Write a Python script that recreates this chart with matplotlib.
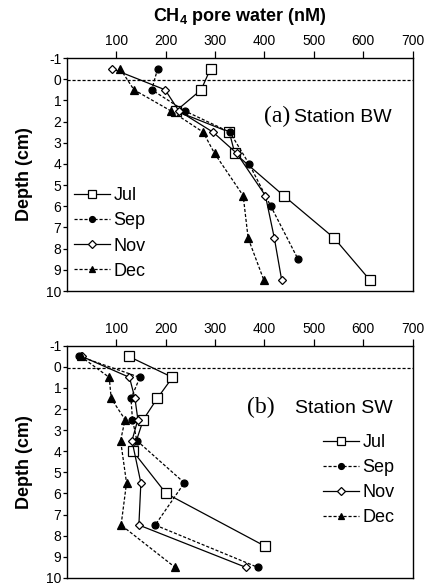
import matplotlib
matplotlib.use("Agg")
import matplotlib.pyplot as plt

plt.rcParams['font.family'] = ['Liberation Sans', 'DejaVu Sans']
plt.rcParams['mathtext.fontset'] = 'custom'
plt.rcParams['mathtext.rm'] = 'Liberation Sans'
plt.rcParams['mathtext.bf'] = 'Liberation Sans:bold'
plt.rcParams['axes.unicode_minus'] = False

# ---- Station BW: depth (cm) and CH4 (nM) ----
bw_jul_depth = [-0.5, 0.5, 1.5, 2.5, 3.5, 5.5, 7.5, 9.5]
bw_jul_ch4 = [291, 272, 221, 329, 340, 439, 541, 614]
bw_sep_depth = [-0.5, 0.5, 1.5, 2.5, 4.0, 6.0, 8.5]
bw_sep_ch4 = [184, 172, 239, 330, 369, 413, 468]
bw_nov_depth = [-0.5, 0.5, 1.5, 2.5, 3.5, 5.5, 7.5, 9.5]
bw_nov_ch4 = [91, 199, 227, 296, 344, 402, 420, 435]
bw_dec_depth = [-0.5, 0.5, 1.5, 2.5, 3.5, 5.5, 7.5, 9.5]
bw_dec_ch4 = [108, 136, 211, 276, 299, 357, 367, 399]

# ---- Station SW ----
sw_jul_depth = [-0.5, 0.5, 1.5, 2.5, 4.0, 6.0, 8.5]
sw_jul_ch4 = [125, 214, 183, 155, 134, 201, 401]
sw_sep_depth = [-0.5, 0.5, 1.5, 2.5, 3.5, 5.5, 7.5, 9.5]
sw_sep_ch4 = [25, 148, 130, 133, 142, 238, 179, 386]
sw_nov_depth = [-0.5, 0.5, 1.5, 2.5, 3.5, 5.5, 7.5, 9.5]
sw_nov_ch4 = [30, 127, 138, 144, 132, 150, 146, 362]
sw_dec_depth = [-0.5, 0.5, 1.5, 2.5, 3.5, 5.5, 7.5, 9.5]
sw_dec_ch4 = [28, 86, 90, 118, 109, 121, 110, 219]

months = ['Jul', 'Sep', 'Nov', 'Dec']
x_ticks = [100, 200, 300, 400, 500, 600, 700]
y_ticks = list(range(-1, 11))

styles = {
    'Jul': dict(ls='-', marker='s', mfc='white', ms=6.5),
    'Sep': dict(ls=(0, (2.5, 1.5)), marker='o', mfc='black', ms=5),
    'Nov': dict(ls='-', marker='D', mfc='white', ms=4.5),
    'Dec': dict(ls=(0, (2.5, 1.5)), marker='^', mfc='black', ms=5.5),
}

fig = plt.figure(figsize=(4.31, 5.86), dpi=100)
ax1 = fig.add_axes([0.1548, 0.5034, 0.8028, 0.3976])
ax2 = fig.add_axes([0.1548, 0.0140, 0.8028, 0.3960])


def draw(ax, series, tag, station, legend_xy, tag_xy, station_xy):
    handles = []
    for m, (d, v) in zip(months, series):
        st = styles[m]
        h, = ax.plot(v, d, color='black', lw=0.9, ls=st['ls'], marker=st['marker'],
                     mfc=st['mfc'], mec='black', mew=0.9, ms=st['ms'], label=m)
        handles.append(h)
    ax.axhline(0.05, color='black', lw=0.9, ls=(0, (2.5, 1.5)))
    ax.set_xlim(0, 700)
    ax.set_ylim(10, -1)
    ax.xaxis.tick_top()
    ax.set_xticks(x_ticks)
    ax.set_yticks(y_ticks)
    ax.tick_params(axis='x', direction='out', length=5, width=0.9, labelsize=10, pad=2)
    ax.tick_params(axis='y', direction='out', length=3, width=0.9, labelsize=10, pad=1)
    for s in ax.spines.values():
        s.set_linewidth(1.0)
    ax.legend(handles=handles, loc='upper left', bbox_to_anchor=legend_xy, frameon=False,
              fontsize=13, handlelength=2.0, handletextpad=0.2, labelspacing=0.45,
              borderpad=0, borderaxespad=0, markerscale=0.85)
    ax.text(tag_xy[0], tag_xy[1], tag, transform=ax.transAxes, ha='left', va='center',
            fontsize=17, family=['Liberation Serif', 'DejaVu Serif'])
    ax.text(station_xy[0], station_xy[1], station, transform=ax.transAxes, ha='left',
            va='center', fontsize=14)


draw(ax1,
     [(bw_jul_depth, bw_jul_ch4), (bw_sep_depth, bw_sep_ch4),
      (bw_nov_depth, bw_nov_ch4), (bw_dec_depth, bw_dec_ch4)],
     '(a)', 'Station BW', (0.02, 0.445), (0.571, 0.75), (0.656, 0.745))
draw(ax2,
     [(sw_jul_depth, sw_jul_ch4), (sw_sep_depth, sw_sep_ch4),
      (sw_nov_depth, sw_nov_ch4), (sw_dec_depth, sw_dec_ch4)],
     '(b)', 'Station SW', (0.74, 0.62), (0.521, 0.735), (0.66, 0.73))

fig.text(0.557, 0.971, r'CH$_{\mathbf{4}}$ pore water (nM)', ha='center', va='center',
         fontsize=13, fontweight='bold')
for ax in (ax1, ax2):
    pos = ax.get_position()
    fig.text(0.058, pos.y0 + pos.height / 2, 'Depth (cm)', rotation=90, ha='center',
             va='center', fontsize=13, fontweight='bold')

fig.savefig('out.png', dpi=100)
